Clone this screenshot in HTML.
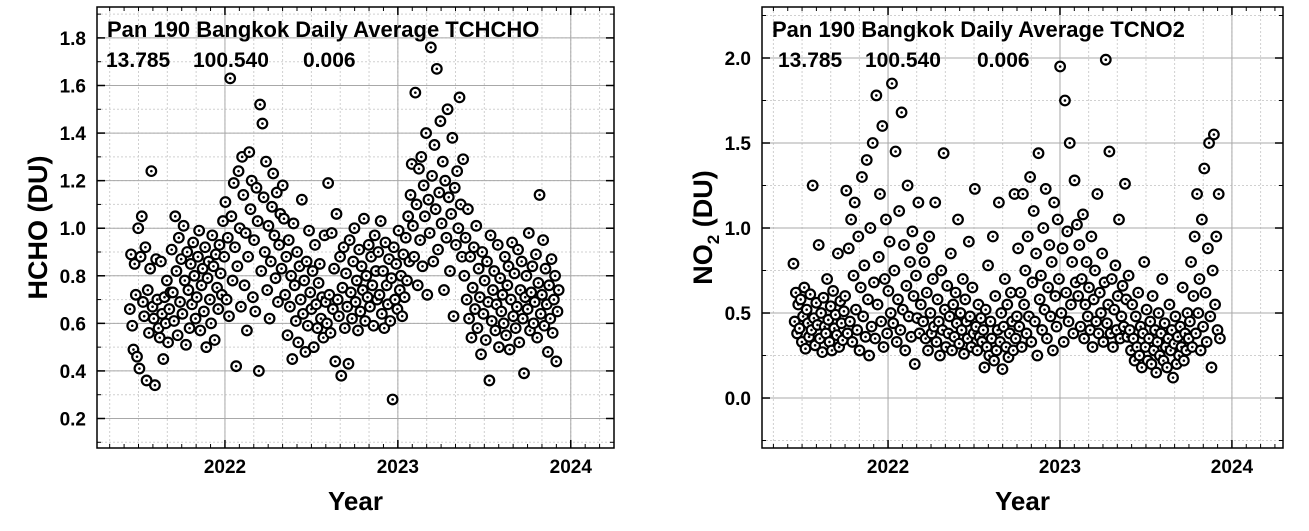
<!DOCTYPE html>
<html><head><meta charset="utf-8"><style>
html,body{margin:0;padding:0;background:#fff;}
svg{display:block;font-family:"Liberation Sans",Arial,sans-serif;}
</style></head><body>
<svg id="chart" width="1309" height="531" viewBox="0 0 1309 531" xmlns="http://www.w3.org/2000/svg"></svg>
<script>
// Data (values in hundredths of DU), spread evenly in time
const startYear = 2021.45;
const endYear = 2023.93;
const hchoValues = [66,89,59,49,85,72,46,100,41,88,105,69,63,92,36,74,56,83,124,67,62,34,87,70,58,54,86,64,45,71,60,78,52,66,73,91,
73,61,105,82,55,96,69,87,64,101,78,51,90,74,58,85,68,94,80,62,71,88,99,57,76,83,65,92,50,79,86,70,60,97,84,53,89,75,66,93,81,72,103,
88,111,70,96,63,163,105,78,119,92,42,84,124,100,67,130,114,76,98,57,88,132,108,120,71,95,65,117,103,40,152,82,144,113,90,128,74,101,62,86,109,123,97,79,115,69,93,106,83,118,
104,72,88,55,95,67,80,45,102,76,61,90,52,84,70,112,64,78,48,86,59,99,73,66,82,50,93,68,58,77,85,62,71,54,97,69,
60,119,72,56,98,66,83,44,106,70,63,88,38,75,92,58,81,67,43,95,73,62,86,100,69,78,57,91,65,84,74,104,61,80,71,93,67,88,76,59,97,82,70,
90,72,103,64,82,58,94,76,68,87,61,79,28,92,70,85,66,99,74,80,63,89,71,96,78,105,86,114,127,
101,88,157,110,76,125,95,130,84,118,105,140,72,112,98,176,122,86,135,108,167,91,115,145,102,128,74,120,96,150,113,82,106,138,63,117,93,124,100,155,110,88,129,
80,96,70,108,62,88,54,75,92,66,101,58,83,71,47,90,64,78,53,86,69,36,97,61,74,82,57,68,93,50,79,65,72,60,88,55,76,84,49,70,94,63,81,58,67,91,52,74,86,62,39,71,80,66,98,57,73,84,60,69,89,54,77,114,64,72,95,59,83,68,48,76,62,87,56,70,80,44,65,74];
const no2Values = [79,45,62,38,55,41,58,33,48,65,29,52,44,36,61,40,125,47,31,56,43,90,35,50,27,59,42,38,70,46,33,54,28,63,41,49,37,85,30,57,44,34,51,
60,122,38,88,45,105,33,72,115,52,40,95,28,65,130,48,78,36,140,58,25,100,42,150,68,35,178,55,83,120,45,160,30,70,105,38,63,92,50,185,44,75,145,33,58,110,40,168,52,90,28,66,125,48,80,36,98,60,20,72,47,115,38,55,88,
45,80,35,62,28,95,50,38,70,42,115,33,58,45,25,75,40,144,52,30,66,38,48,85,28,55,36,62,44,105,32,50,40,70,26,58,45,35,92,48,30,65,38,123,42,28,55,36,47,33,
40,18,52,30,78,25,45,35,95,22,60,28,40,115,33,50,17,42,70,30,55,24,38,62,45,28,120,35,48,
88,42,62,30,120,55,75,38,95,48,130,33,68,110,45,85,25,144,58,72,40,100,52,123,35,65,90,48,80,28,115,60,42,105,70,195,50,88,33,175,62,98,45,150,55,80,38,128,68,102,
60,90,42,70,108,35,55,80,48,65,40,95,30,58,75,45,120,38,62,50,85,33,68,199,44,55,145,38,70,30,52,78,40,60,105,35,48,66,42,126,58,36,72,
40,28,55,35,22,48,30,62,25,42,18,38,80,30,52,22,35,45,20,60,28,40,15,33,50,25,38,70,22,44,30,18,35,55,28,40,12,32,48,20,36,25,42,30,65,22,38,28,50,35,
45,80,30,60,95,38,120,50,70,28,105,42,135,62,33,88,150,48,18,75,155,55,95,40,120,35];
const xTickLabels = ["2022","2023","2024"];
const hchoYTicks = ["0.2","0.4","0.6","0.8","1.0","1.2","1.4","1.6","1.8"];
const no2YTicks = ["0.0","0.5","1.0","1.5","2.0"];
const infoValues = ["13.785","100.540","0.006"];

const NS="http://www.w3.org/2000/svg";
const svg=document.getElementById('chart');
function mk(tag,attrs,parent){const e=document.createElementNS(NS,tag);for(const k in attrs)e.setAttribute(k,attrs[k]);(parent||svg).appendChild(e);return e;}

function drawPanel(cfg){
  const g=mk('g',{});
  
  
  const L=cfg.x0,R=cfg.x1,T=7,B=448;
  const sx=v=>L+(v-cfg.xmin)/(cfg.xmax-cfg.xmin)*(R-L);
  const sy=v=>B-(v-cfg.ymin)/(cfg.ymax-cfg.ymin)*(B-T);
  for(let y=2021+1/6;y<cfg.xmax;y+=1/6){const px=sx(y);if(px<=L||px>=R)continue;
    const l=mk('line',{x1:px,x2:px,y1:T,y2:B,stroke:'#d0d0d0','stroke-dasharray':'2,2','stroke-width':1},g);
    }
  for(let v=Math.ceil(cfg.ymin/cfg.minor)*cfg.minor;v<cfg.ymax;v+=cfg.minor){const py=sy(v);
    const l=mk('line',{x1:L,x2:R,y1:py,y2:py,stroke:'#d0d0d0','stroke-dasharray':'2,2','stroke-width':1},g);
    }
  xTickLabels.forEach(t=>{const px=sx(+t);
    const l=mk('line',{x1:px,x2:px,y1:T,y2:B,stroke:'#a8a8a8','stroke-width':1},g);
    
    mk('line',{x1:px,x2:px,y1:B,y2:B-8,stroke:'#000','stroke-width':1.5},g);
    mk('line',{x1:px,x2:px,y1:T,y2:T+8,stroke:'#000','stroke-width':1.5},g);
    const tx=mk('text',{x:px,y:B+25,'text-anchor':'middle','font-size':19,'font-weight':'bold'},g);tx.textContent=t;
    });
  for(let m=2021+1/12;m<cfg.xmax;m+=1/12){const px=sx(m);if(px<=L||px>=R)continue;
    mk('line',{x1:px,x2:px,y1:B,y2:B-4,stroke:'#000','stroke-width':1},g);
    mk('line',{x1:px,x2:px,y1:T,y2:T+4,stroke:'#000','stroke-width':1},g);}
  cfg.yticks.forEach(t=>{const py=sy(+t);
    const l=mk('line',{x1:L,x2:R,y1:py,y2:py,stroke:'#a8a8a8','stroke-width':1},g);
    
    mk('line',{x1:L,x2:L+8,y1:py,y2:py,stroke:'#000','stroke-width':1.5},g);
    mk('line',{x1:R,x2:R-8,y1:py,y2:py,stroke:'#000','stroke-width':1.5},g);
    const tx=mk('text',{x:L-11,y:py+7,'text-anchor':'end','font-size':19,'font-weight':'bold'},g);tx.textContent=t;
    });
  for(let v=Math.ceil(cfg.ymin/cfg.minor)*cfg.minor;v<cfg.ymax;v+=cfg.minor){const py=sy(v);
    mk('line',{x1:L,x2:L+4,y1:py,y2:py,stroke:'#000','stroke-width':1},g);
    mk('line',{x1:R,x2:R-4,y1:py,y2:py,stroke:'#000','stroke-width':1},g);}
  const n=cfg.values.length;
  cfg.values.forEach((v,i)=>{const t=startYear+(endYear-startYear)*i/(n-1);
    const px=sx(t),py=sy(v/100);
    const c=mk('circle',{cx:px,cy:py,r:4.8,fill:'#fff',stroke:'#000','stroke-width':2.2},g);
    
    mk('circle',{cx:px,cy:py,r:1.3,fill:'#000'},g);});
  const f=mk('rect',{x:L,y:T,width:R-L,height:B-T,fill:'none',stroke:'#000','stroke-width':1.5},g);
  
  const ti=mk('text',{x:L+10,y:37,'font-size':22,'font-weight':'bold'},g);ti.textContent=cfg.title;
  
  infoValues.forEach((s,i)=>{
    const sub=mk('text',{x:L+cfg.infoX[i],y:67,'font-size':21,'font-weight':'bold'},g);
    sub.textContent=s;
    
  });
  const xl=mk('text',{x:(L+R)/2,y:510,'text-anchor':'middle','font-size':26,'font-weight':'bold'},g);xl.textContent='Year';
  
  const yl=mk('text',{transform:`translate(${cfg.ylx},${(T+B)/2}) rotate(-90)`,'text-anchor':'middle','font-size':27,'font-weight':'bold'},g);
  yl.innerHTML=cfg.ylabel;
  
}
drawPanel({name:'hcho-panel',x0:97,x1:614,xmin:2021.26,xmax:2024.25,ymin:0.076,ymax:1.93,minor:0.1,
  yticks:hchoYTicks,values:hchoValues,title:'Pan 190 Bangkok Daily Average TCHCHO',ylabel:'HCHO (DU)',ylx:47,infoX:[9,96,206]});
drawPanel({name:'no2-panel',x0:762,x1:1283,xmin:2021.267,xmax:2024.297,ymin:-0.294,ymax:2.3,minor:0.25,
  yticks:no2YTicks,values:no2Values,title:'Pan 190 Bangkok Daily Average TCNO2',ylabel:'NO<tspan font-size="17" dy="7">2</tspan><tspan dy="-7"> (DU)</tspan>',ylx:712,infoX:[16,103,215]});
</script>
</body></html>
